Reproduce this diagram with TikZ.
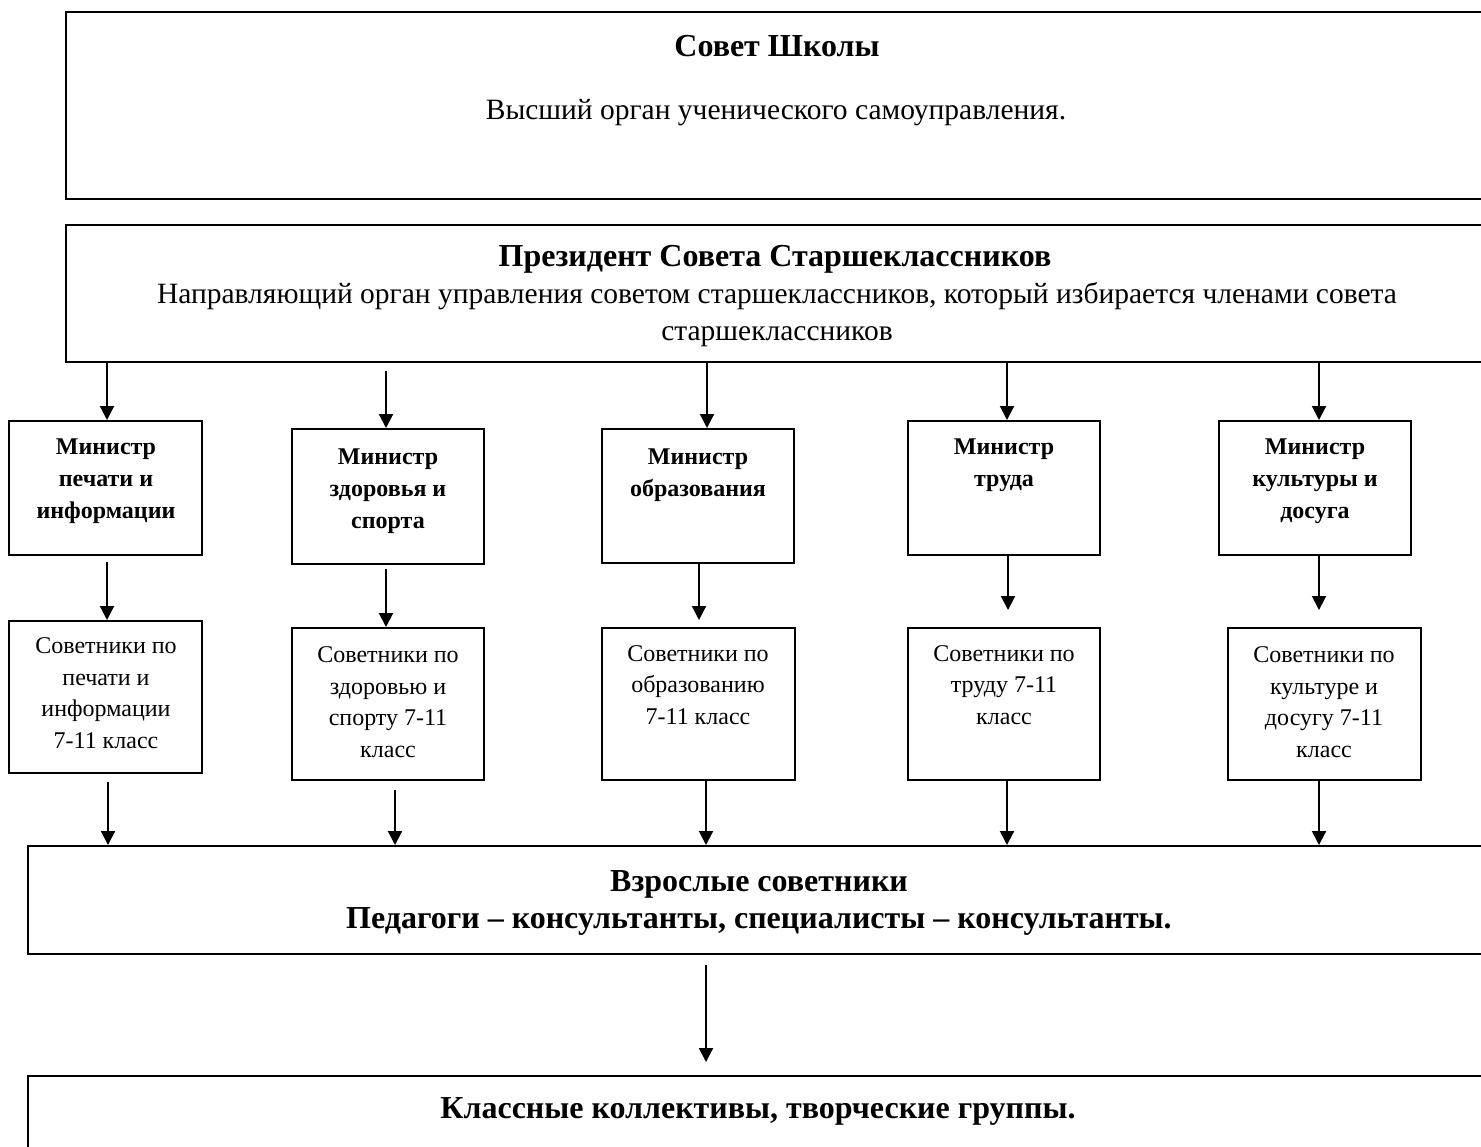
\documentclass[tikz,border=0pt]{standalone}
\usepackage{fontspec}
\setmainfont{Liberation Serif}
\usetikzlibrary{arrows.meta,fit}
\begin{document}
\begin{tikzpicture}[x=0.5pt,y=-0.5pt,
  box/.style={draw=black,line width=1pt,inner sep=0pt,fill=none},
  txt/.style={inner sep=0pt,anchor=base,align=center},
  big/.style={txt,font={\fontsize{16}{18.5}\selectfont\bfseries}},
  body/.style={txt,font={\fontsize{14.75}{18.5}\selectfont}},
  mintxt/.style={txt,font={\fontsize{12}{16}\selectfont\bfseries}},
  ctxt/.style={txt,font={\fontsize{12}{15.75}\selectfont}},
  arr/.style={line width=1pt,-{Triangle[length=7pt,width=7pt]}}]
\clip (0,0) rectangle (1481,1146);
\fill[white] (0,0) rectangle (1481,1146);
% main boxes
\node[box,fit={(66,12) (1488,199)}] (top) {};
\node[box,fit={(66,225) (1488,362)}] (pres) {};
\node[box,fit={(28,846) (1490,954)}] (adult) {};
\node[box,fit={(28,1076) (1490,1160)}] (cls) {};
% ministers
\node[box,fit={(9,421) (202,555)}] (m1) {};
\node[box,fit={(292,429) (484,564)}] (m2) {};
\node[box,fit={(602,429) (794,563)}] (m3) {};
\node[box,fit={(908,421) (1100,555)}] (m4) {};
\node[box,fit={(1219,421) (1411,555)}] (m5) {};
% counsellors
\node[box,fit={(9,621) (202,773)}] (c1) {};
\node[box,fit={(292,628) (484,780)}] (c2) {};
\node[box,fit={(602,628) (795,780)}] (c3) {};
\node[box,fit={(908,628) (1100,780)}] (c4) {};
\node[box,fit={(1228,628) (1421,780)}] (c5) {};
% texts (anchor = baseline of the last line)
\node[big] (t1) at (777,56) {Совет Школы};
\node[body] (t2) at (776,119) {Высший орган ученического самоуправления.};
\node[big] (t3) at (775,266) {Президент Совета Старшеклассников};
\node[body] (t4) at (777,340) {Направляющий орган управления советом старшеклассников, который избирается членами совета\\старшеклассников};
\node[mintxt] (tm1) at (106,518) {Министр\\печати и\\информации};
\node[mintxt] (tm2) at (388,528) {Министр\\здоровья и\\спорта};
\node[mintxt] (tm3) at (698,496) {Министр\\образования};
\node[mintxt] (tm4) at (1004,486) {Министр\\труда};
\node[mintxt] (tm5) at (1315,518) {Министр\\культуры и\\досуга};
\node[ctxt] (tc1) at (106,748) {Советники по\\печати и\\информации\\7-11 класс};
\node[ctxt] (tc2) at (388,757) {Советники по\\здоровью и\\спорту 7-11\\класс};
\node[ctxt] (tc3) at (698,724) {Советники по\\образованию\\7-11 класс};
\node[ctxt] (tc4) at (1004,724) {Советники по\\труду 7-11\\класс};
\node[ctxt] (tc5) at (1324,757) {Советники по\\культуре и\\досугу 7-11\\класс};
\node[big] (ta) at (759,928) {Взрослые советники\\Педагоги – консультанты, специалисты – консультанты.};
\node[big] (tk) at (758,1118) {Классные коллективы, творческие группы.};
% arrow start points
\coordinate (p1) at (107,362);
\coordinate (p2) at (386,371);
\coordinate (p3) at (707,363);
\coordinate (p4) at (1007,362);
\coordinate (p5) at (1319,362);
\coordinate (q1) at (107,562);
\coordinate (q2) at (386,569);
\coordinate (q3) at (699,563);
\coordinate (q4) at (1008,555);
\coordinate (q5) at (1319,555);
\coordinate (e3) at (699,620);
\coordinate (e4) at (1008,610);
\coordinate (e5) at (1319,610);
\coordinate (r1) at (108,782);
\coordinate (r2) at (395,790);
\coordinate (r3) at (706,780);
\coordinate (r4) at (1007,780);
\coordinate (r5) at (1319,780);
\coordinate (s1) at (706,965);
\coordinate (s2) at (706,1062);
% arrows
\draw[arr] (p1) -- (p1 |- m1.north);
\draw[arr] (p2) -- (p2 |- m2.north);
\draw[arr] (p3) -- (p3 |- m3.north);
\draw[arr] (p4) -- (p4 |- m4.north);
\draw[arr] (p5) -- (p5 |- m5.north);
\draw[arr] (q1) -- (q1 |- c1.north);
\draw[arr] (q2) -- (q2 |- c2.north);
\draw[arr] (q3) -- (e3);
\draw[arr] (q4) -- (e4);
\draw[arr] (q5) -- (e5);
\draw[arr] (r1) -- (r1 |- adult.north);
\draw[arr] (r2) -- (r2 |- adult.north);
\draw[arr] (r3) -- (r3 |- adult.north);
\draw[arr] (r4) -- (r4 |- adult.north);
\draw[arr] (r5) -- (r5 |- adult.north);
\draw[arr] (s1) -- (s2);
\end{tikzpicture}
\end{document}
